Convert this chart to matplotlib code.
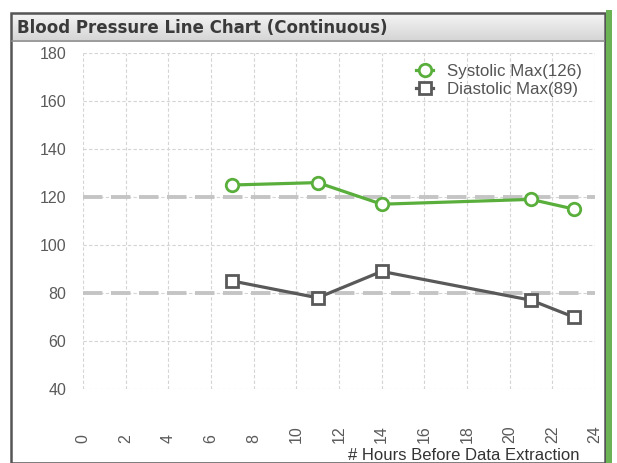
import numpy as np
import matplotlib
matplotlib.use("Agg")
import matplotlib.pyplot as plt
from matplotlib.patches import Rectangle
from matplotlib.lines import Line2D

# Datos
hours = [7, 11, 14, 21, 23]
systolic = [125, 126, 117, 119, 115]
diastolic = [85, 78, 89, 77, 70]
ref_levels = [120, 80]
x_ticks = list(range(0, 25, 2))
y_ticks = list(range(40, 181, 20))
title = "Blood Pressure Line Chart (Continuous)"
x_label = "# Hours Before Data Extraction"
sys_label = "Systolic Max(%d)" % max(systolic)
dia_label = "Diastolic Max(%d)" % max(diastolic)

green = "#5aaf3c"
dark = "#595959"
W, H = 617, 463

fig = plt.figure(figsize=(W / 100, H / 100), dpi=100)
fig.patch.set_facecolor("white")

def fx(px):
    return px / W

def fy(py):
    return 1 - py / H

# Marco exterior
fig.patches.append(Rectangle((fx(11), fy(463)), fx(605) - fx(11), fy(13) - fy(463),
                             transform=fig.transFigure, fill=False,
                             edgecolor="#555555", linewidth=1.8, zorder=0))
# Franja verde a la derecha
fig.patches.append(Rectangle((fx(606), 0), fx(6), fy(10),
                             transform=fig.transFigure, facecolor="#6cb356",
                             edgecolor="none", zorder=0))

# Barra de titulo con degradado
tax = fig.add_axes([fx(12), fy(40), fx(604) - fx(12), fy(14) - fy(40)])
grad = np.linspace(0, 1, 50).reshape(-1, 1)
tax.imshow(grad, aspect="auto", cmap=matplotlib.colors.LinearSegmentedColormap.from_list(
    "bar", ["#f4f4f4", "#d6d6d6"]), extent=[0, 1, 0, 1], origin="upper")
tax.set_xlim(0, 1)
tax.set_ylim(0, 1)
tax.set_axis_off()
tax.text(0.008, 0.48, title, fontsize=12, fontweight="bold", color="#3a3a3a",
         va="center", ha="left", family="DejaVu Sans")
fig.add_artist(Line2D([fx(12), fx(604)], [fy(40.5), fy(40.5)],
                      transform=fig.transFigure, color="#8a8a8a", linewidth=1.2))

# Grafico principal
ax = fig.add_axes([fx(83), fy(389), fx(595) - fx(83), fy(53) - fy(389)])
ax.set_xlim(0, 24)
ax.set_ylim(40, 180)
ax.set_xticks(x_ticks)
ax.set_yticks(y_ticks)
for s in ax.spines.values():
    s.set_visible(False)
ax.grid(True, color="#d4d4d4", linewidth=0.8, linestyle=(0, (3, 2)))
ax.set_axisbelow(True)
ax.tick_params(length=0, labelsize=11.5, labelcolor="#5a5a5a")
ax.tick_params(axis="y", pad=12)
ax.tick_params(axis="x", pad=39)
for lab in ax.get_yticklabels():
    lab.set_family("Liberation Sans")
for lab in ax.get_xticklabels():
    lab.set_family("Liberation Sans")
    lab.set_rotation(90)
    lab.set_va("bottom")

for lvl in ref_levels:
    ax.axhline(lvl, color="#c4c4c4", linewidth=2.8, linestyle=(0, (5, 2.2)), zorder=1)

ax.plot(hours, systolic, color=green, linewidth=2.3, marker="o", markersize=9,
        markerfacecolor="white", markeredgewidth=2, markeredgecolor=green,
        label=sys_label, zorder=3)
ax.plot(hours, diastolic, color=dark, linewidth=2.3, marker="s", markersize=8.5,
        markerfacecolor="white", markeredgewidth=2, markeredgecolor=dark,
        label=dia_label, zorder=3)

leg = ax.legend(loc="upper right", bbox_to_anchor=(0.995, 1.0), frameon=False,
                handlelength=1.0, handletextpad=0.8, labelspacing=0.2,
                prop={"family": "Liberation Sans", "size": 12.2}, borderaxespad=0.25)
for t in leg.get_texts():
    t.set_color("#555555")

fig.text(fx(580), fy(455), x_label, ha="right", va="center", fontsize=12,
         color="#333333", family="Liberation Sans")

fig.savefig("out.png", dpi=100)
